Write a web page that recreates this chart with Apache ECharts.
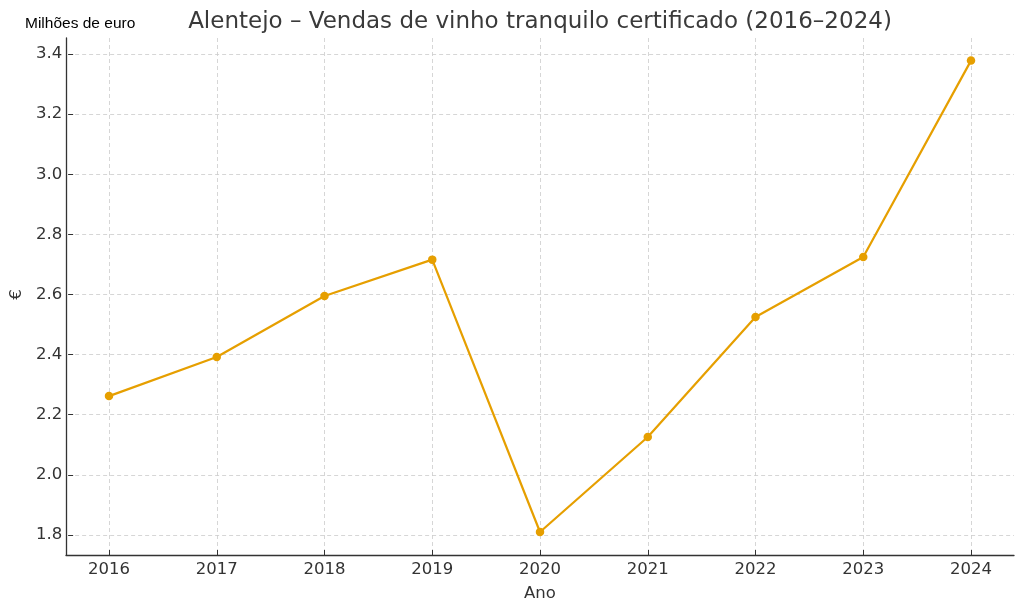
<!DOCTYPE html>
<html>
<head>
<meta charset="utf-8">
<script src="https://cdn.jsdelivr.net/npm/echarts@6/dist/echarts.min.js"></script>
<style>html,body{margin:0;padding:0;background:#fff}#c{width:1024px;height:611px}</style>
</head>
<body>
<div id="c"></div>
<script>
const years = [2016, 2017, 2018, 2019, 2020, 2021, 2022, 2023, 2024];
const values = [2.262, 2.392, 2.595, 2.716, 1.81, 2.126, 2.525, 2.725, 3.378];
const titleText = 'Alentejo – Vendas de vinho tranquilo certificado (2016–2024)';
const unitText = 'Milhões de euro';
const xName = 'Ano';
const yName = '€';
const yMin = 1.8, yMax = 3.4, yStep = 0.2;

const FONT = 'DejaVu Sans';
const TXT = '#333333';
const GRIDC = '#cccccc';
const ORANGE = '#E69F00';

const chart = echarts.init(document.getElementById('c'), null, {renderer: 'canvas'});
const hidden = {show: false};
const hiddenAxis = (t, extra) => Object.assign({type: t, show: false, axisLine: hidden, axisTick: hidden, axisLabel: hidden, splitLine: hidden}, extra || {});

chart.setOption({
  animation: false,
  backgroundColor: '#ffffff',
  title: {
    text: titleText,
    left: 535, textAlign: 'center', top: 6,
    textStyle: {fontFamily: FONT, fontSize: 23, fontWeight: 'normal', color: '#3a3a3a'}
  },
  graphic: [{
    type: 'text', left: 25, top: 16,
    style: {text: unitText, font: '15.5px "Liberation Sans", Arial, sans-serif', fill: '#000'}
  }],
  grid: [
    {left: 66, right: 10, top: 38, bottom: 56},   // 0 spines
    {left: 109, right: 53, top: 38, bottom: 56},  // 1 x ticks / vertical grid
    {left: 66, right: 10, top: 54, bottom: 76},   // 2 y ticks / horizontal grid
    {left: 109, right: 53, top: 54, bottom: 76}   // 3 data
  ],
  xAxis: [
    {gridIndex: 0, type: 'value', min: 0, max: 1, axisLine: {show: true, lineStyle: {color: TXT, width: 1.3}}, axisTick: hidden, axisLabel: hidden, splitLine: hidden},
    {gridIndex: 1, type: 'value', min: years[0], max: years[years.length - 1], interval: 1,
      axisLine: hidden,
      axisTick: {show: true, inside: true, length: 5, lineStyle: {color: TXT, width: 1}},
      axisLabel: {show: true, margin: 6, fontFamily: FONT, fontSize: 16.5, color: TXT, formatter: v => String(v)},
      splitLine: {show: true, lineStyle: {color: GRIDC, type: [4, 3], width: 0.8}},
      name: xName, nameLocation: 'middle', nameGap: 30,
      nameTextStyle: {fontFamily: FONT, fontSize: 16.5, color: TXT}
    },
    hiddenAxis('value', {gridIndex: 2, min: 0, max: 1}),
    hiddenAxis('value', {gridIndex: 3, min: years[0], max: years[years.length - 1]})
  ],
  yAxis: [
    {gridIndex: 0, type: 'value', min: 0, max: 1, axisLine: {show: true, lineStyle: {color: TXT, width: 1.3}}, axisTick: hidden, axisLabel: hidden, splitLine: hidden},
    hiddenAxis('value', {gridIndex: 1, min: 0, max: 1}),
    {gridIndex: 2, type: 'value', min: yMin, max: yMax, interval: yStep,
      axisLine: hidden,
      axisTick: {show: true, inside: true, length: 5, lineStyle: {color: TXT, width: 1}},
      axisLabel: {show: true, margin: 6, fontFamily: FONT, fontSize: 16.5, color: TXT, formatter: v => v.toFixed(1)},
      splitLine: {show: true, lineStyle: {color: GRIDC, type: [4, 3], width: 0.8}},
      name: yName, nameLocation: 'middle', nameGap: 42, nameRotate: 90,
      nameTextStyle: {fontFamily: FONT, fontSize: 16.5, color: TXT}
    },
    hiddenAxis('value', {gridIndex: 3, min: yMin, max: yMax})
  ],
  series: [{
    type: 'line', xAxisIndex: 3, yAxisIndex: 3,
    data: years.map((y, i) => [y, values[i]]),
    symbol: 'circle', symbolSize: 8.5, showSymbol: true,
    lineStyle: {color: ORANGE, width: 2.2},
    itemStyle: {color: ORANGE},
    clip: false
  }]
});
</script>
</body>
</html>
